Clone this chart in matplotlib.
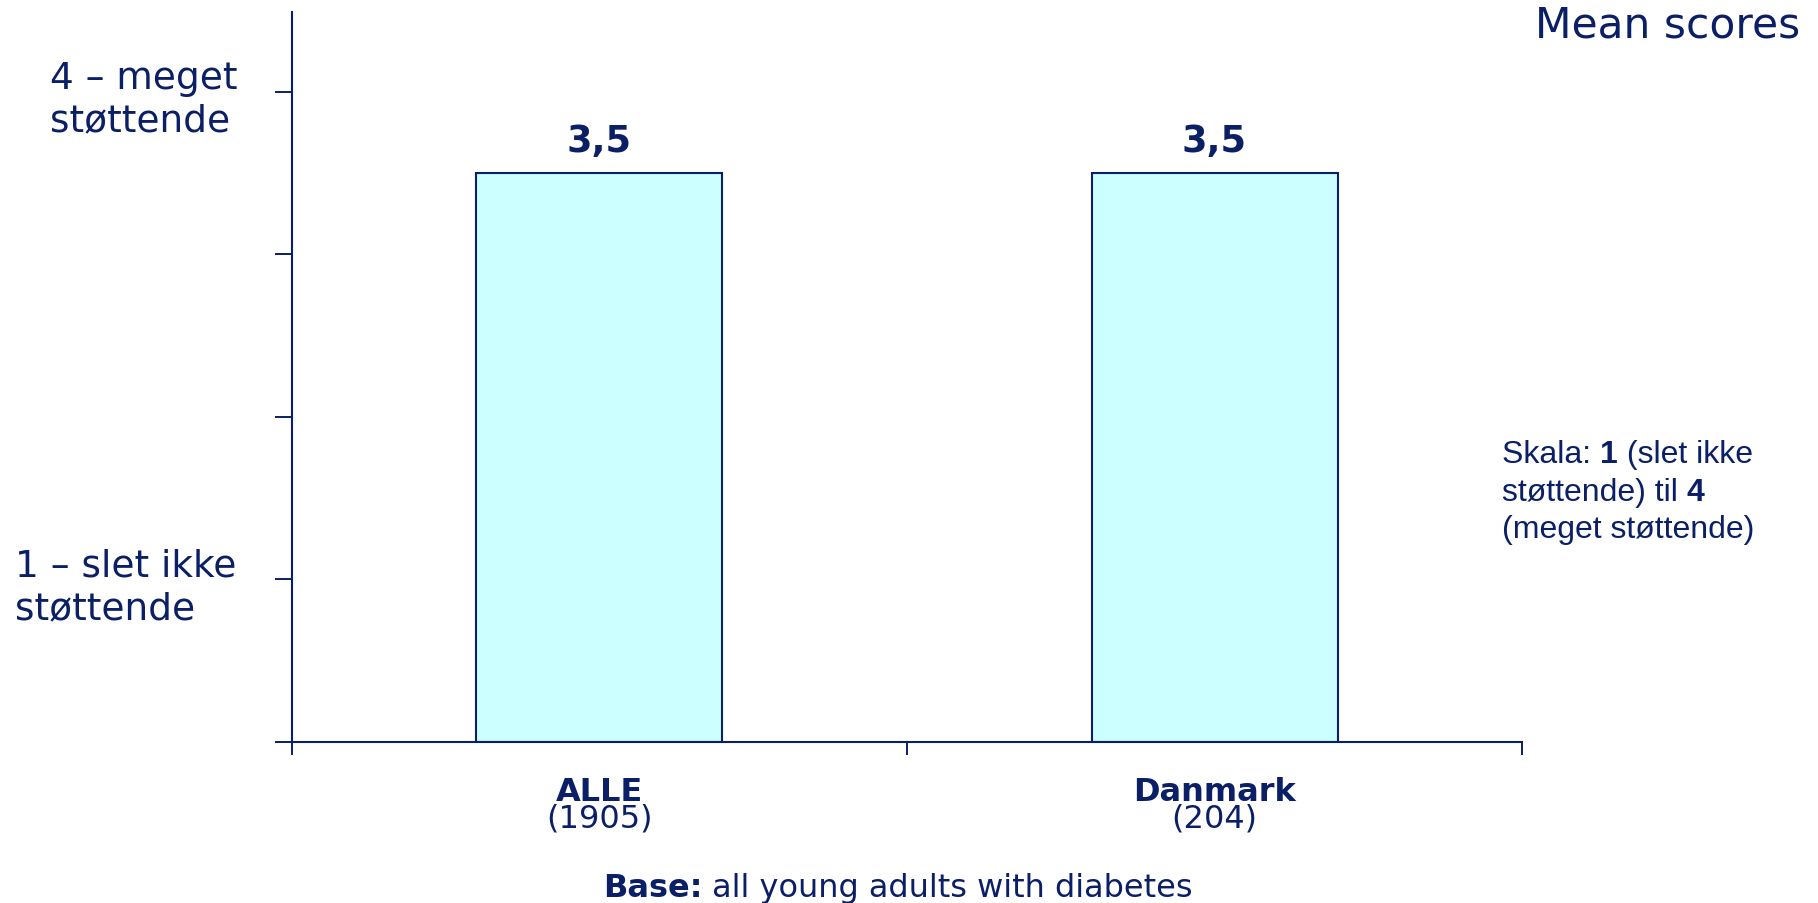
"""Mean scores bar chart: ALLE vs Danmark."""
import matplotlib
matplotlib.use('Agg')
import matplotlib.pyplot as plt

NAVY = '#0B1F66'
FILL = '#CCFFFF'

categories = ['ALLE', 'Danmark']
bases = ['(1905)', '(204)']
scores = [3.5, 3.5]
score_labels = ['3,5', '3,5']
scale_ticks = [1, 4]
scale_labels = [['1 – slet ikke', 'støttende'], ['4 – meget', 'støttende']]
scale_label_x = [15 / 1818, 50 / 1818]

fig = plt.figure(figsize=(18.18, 9.04), dpi=100)
ax = fig.add_axes([0.1606, 0.1781, 0.6766, 0.8075])

xpos = [i + 0.5 for i in range(len(categories))]
ax.bar(xpos, scores, width=0.4, color=FILL, edgecolor=NAVY, linewidth=1.5, zorder=2)

ax.set_xlim(0, len(categories))
ax.set_ylim(0, 4.49)
ax.set_xticks(range(len(categories) + 1))
ax.set_xticklabels([])
ax.set_yticks([0, 1, 2, 3, 4])
ax.set_yticklabels([])
ax.tick_params(axis='y', length=12, width=1.4, color=NAVY, direction='out')
ax.tick_params(axis='x', length=9.5, width=1.4, color=NAVY, direction='out')
for s in ['top', 'right']:
    ax.spines[s].set_visible(False)
for s in ['left', 'bottom']:
    ax.spines[s].set_color(NAVY)
    ax.spines[s].set_linewidth(1.5)

# value labels above bars
for x, v, lab in zip(xpos, scores, score_labels):
    ax.annotate(lab, xy=(x, v), xytext=(0, 16), textcoords='offset points',
                ha='center', va='baseline', fontsize=26.5, fontweight='bold', color=NAVY)

# scale labels on the left, one line at a time
for v, lines, lx in zip(scale_ticks, scale_labels, scale_label_x):
    for i, line in enumerate(lines):
        ax.annotate(line, xy=(lx, v), xycoords=('figure fraction', 'data'),
                    xytext=(0, 3 - 31 * i), textcoords='offset points',
                    ha='left', va='baseline', fontsize=27, color=NAVY)

# category labels
for x, cat, n in zip(xpos, categories, bases):
    ax.annotate(cat, xy=(x, 0.1139), xycoords=('data', 'figure fraction'),
                ha='center', va='baseline', fontsize=23, fontweight='bold', color=NAVY)
    ax.annotate(n, xy=(x, 0.0841), xycoords=('data', 'figure fraction'),
                ha='center', va='baseline', fontsize=23, color=NAVY)

fig.text(0.990, 0.959, 'Mean scores', ha='right', va='baseline', fontsize=30.5, color=NAVY)

# base note
t = fig.text(603 / 1818, 0.0077, 'Base:', ha='left', va='baseline', fontsize=23,
             fontweight='bold', color=NAVY)
ax.annotate(' all young adults with diabetes', xy=(1, 0), xycoords=t,
            ha='left', va='bottom', fontsize=23, color=NAVY)

# scale note (mixed bold), Arial-like
skala_lines = [
    [('Skala: ', 'normal'), ('1', 'bold'), (' (slet ikke', 'normal')],
    [('støttende) til ', 'normal'), ('4', 'bold')],
    [('(meget støttende)', 'normal')],
]
line_y = [1 - 463 / 904, 1 - 501 / 904, 1 - 538 / 904]
for y, parts in zip(line_y, skala_lines):
    prev = None
    for txt, w in parts:
        if prev is None:
            prev = fig.text(1502 / 1818, y, txt, ha='left', va='baseline', fontsize=23,
                            fontweight=w, color=NAVY, family='Liberation Sans')
        else:
            prev = ax.annotate(txt, xy=(1, 0), xycoords=prev, ha='left', va='bottom',
                               fontsize=23, fontweight=w, color=NAVY, family='Liberation Sans')

fig.savefig('out.png', dpi=100)
